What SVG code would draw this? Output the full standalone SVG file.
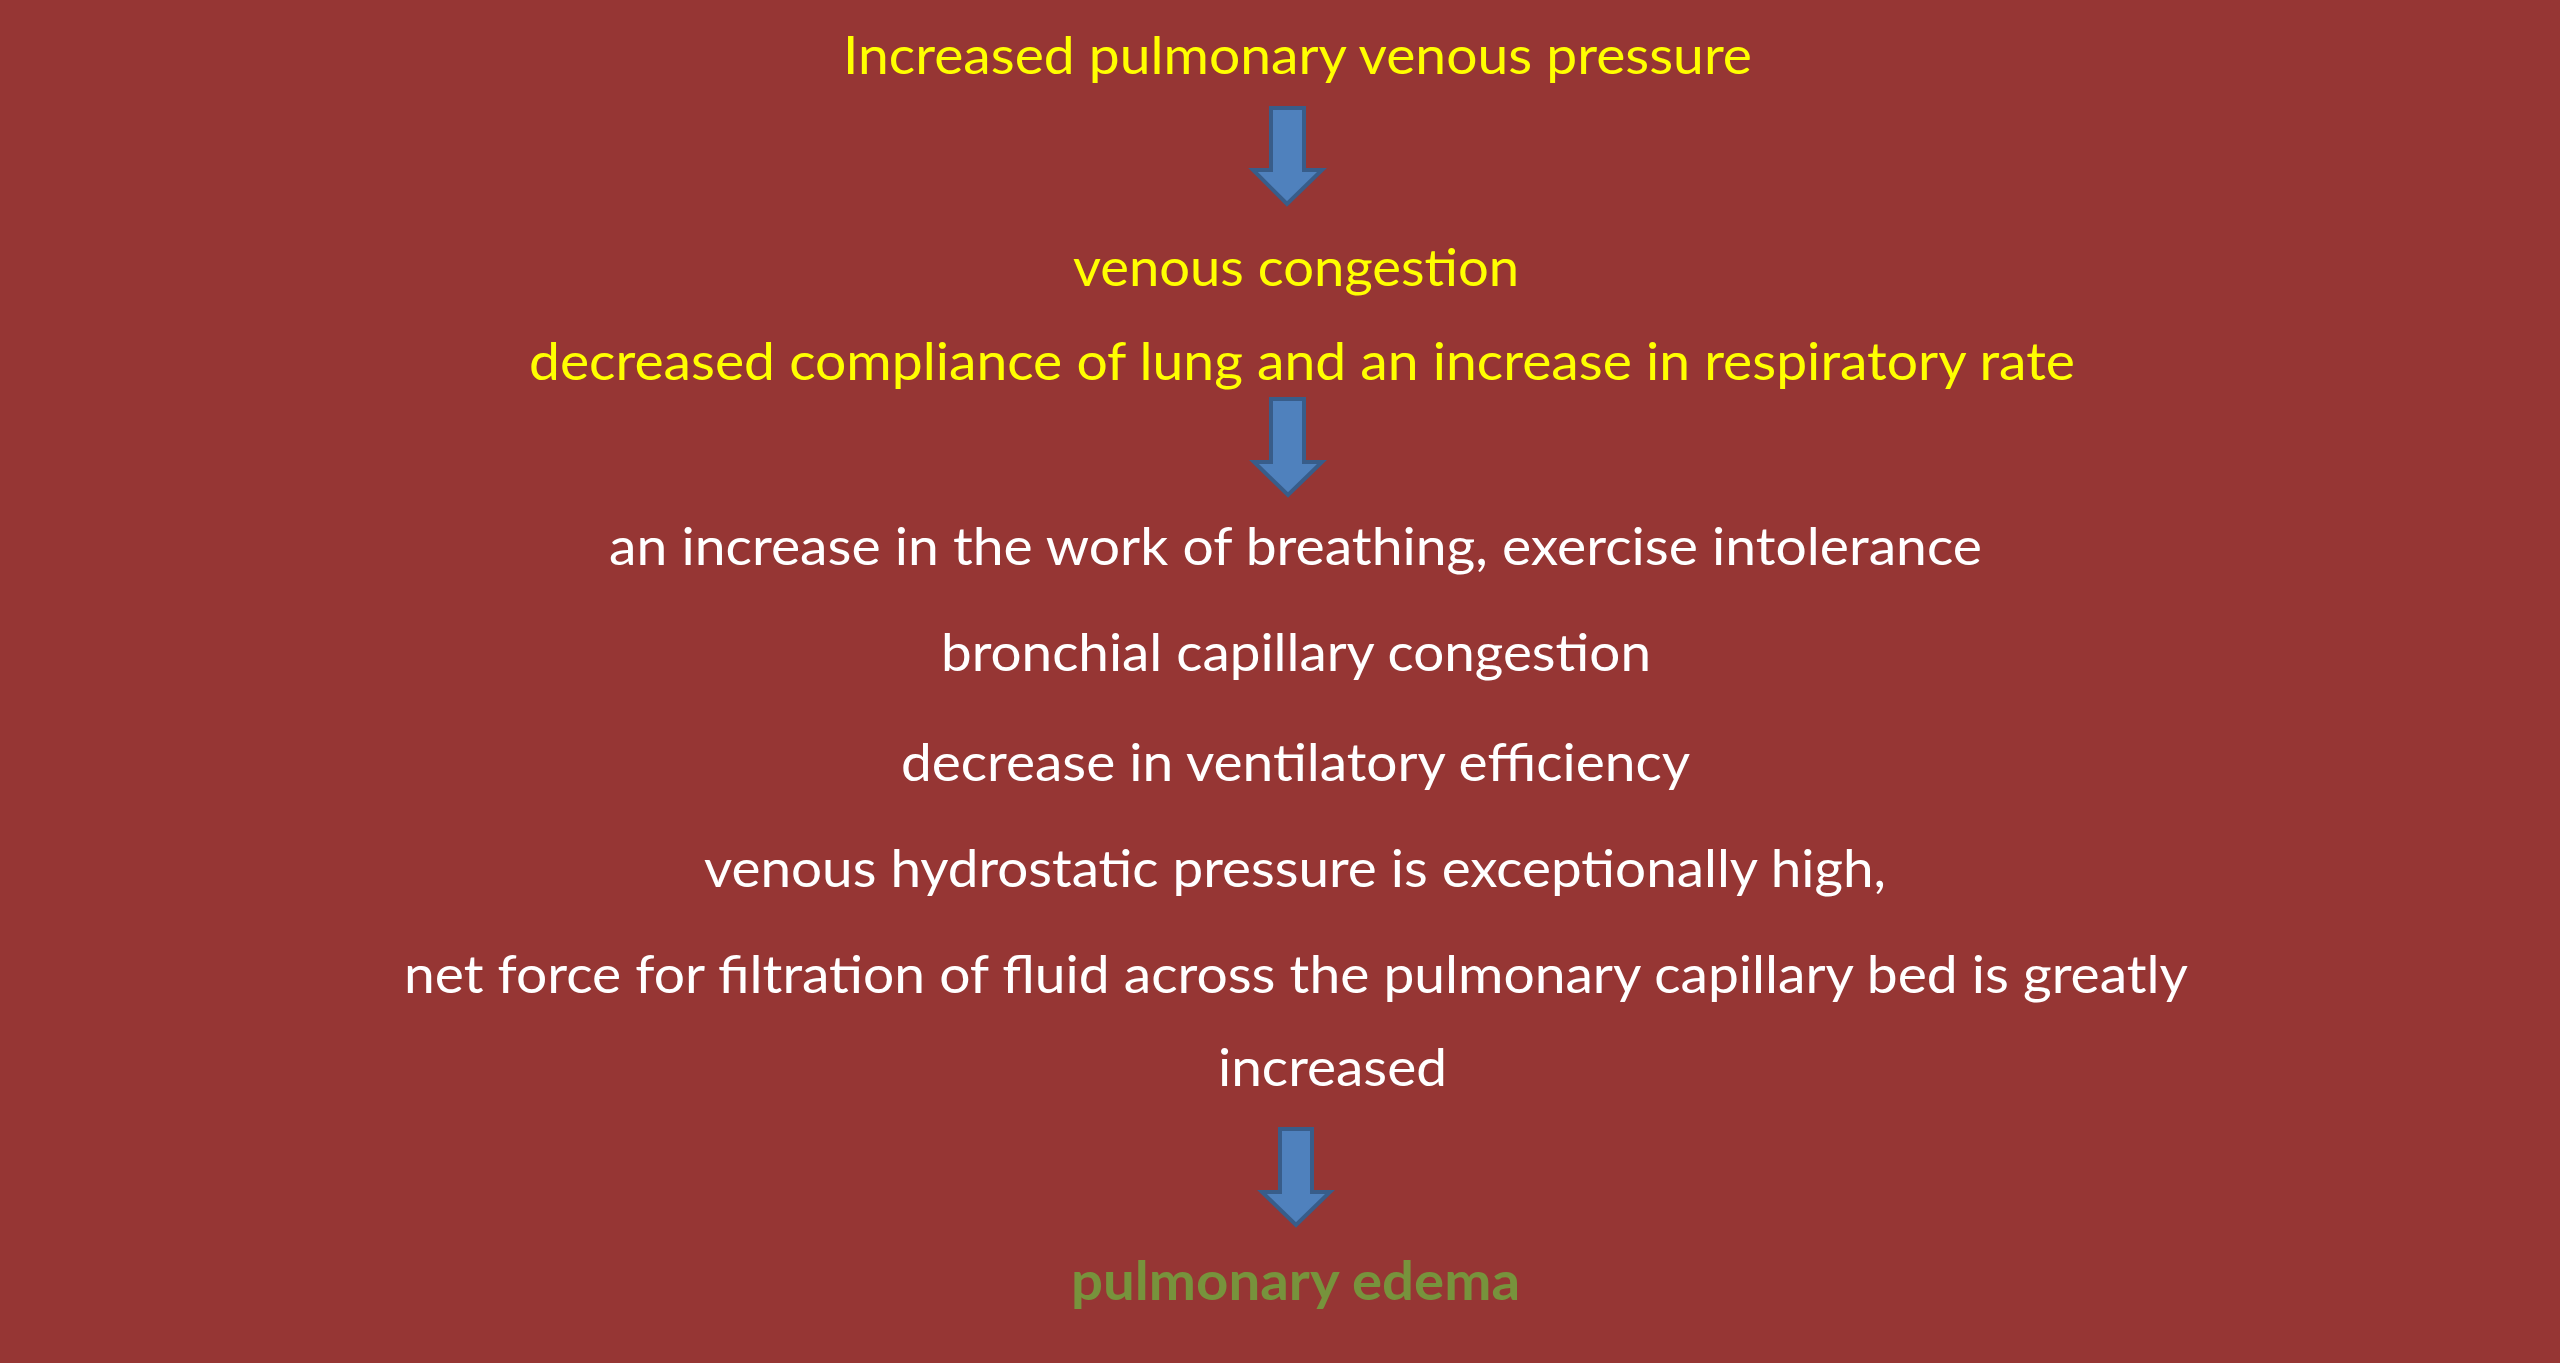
<svg xmlns="http://www.w3.org/2000/svg" width="2560" height="1363" viewBox="0 0 2560 1363">
<style>
.t{font-family:Lato,"Open Sans","Liberation Sans",sans-serif;font-size:53px;text-anchor:start}
.y{fill:#FFFF00}
.w{fill:#FFFFFF}
.g{fill:#77933C;font-weight:bold}
.arr{fill:#4F81BD;stroke:#385D8A;stroke-width:4;stroke-linejoin:miter}
</style>
<rect x="0" y="0" width="2560" height="1363" fill="#963634"/>
<g id="n1"><text class="t y" x="843" y="74" textLength="909" lengthAdjust="spacingAndGlyphs">Increased pulmonary venous pressure</text></g>
<g id="n2"><text class="t y" x="1073" y="286" textLength="446" lengthAdjust="spacingAndGlyphs">venous congestion</text></g>
<g id="n3"><text class="t y" x="529" y="380" textLength="1546" lengthAdjust="spacingAndGlyphs">decreased compliance of lung and an increase in respiratory rate</text></g>
<g id="n4"><text class="t w" x="609" y="565" textLength="1373" lengthAdjust="spacingAndGlyphs">an increase in the work of breathing, exercise intolerance</text></g>
<g id="n5"><text class="t w" x="941" y="671" textLength="710" lengthAdjust="spacingAndGlyphs">bronchial capillary congestion</text></g>
<g id="n6"><text class="t w" x="901" y="781" textLength="789" lengthAdjust="spacingAndGlyphs">decrease in ventilatory efficiency</text></g>
<g id="n7"><text class="t w" x="704" y="887" textLength="1182" lengthAdjust="spacingAndGlyphs">venous hydrostatic pressure is exceptionally high,</text></g>
<g id="n8"><text class="t w" x="404" y="993" textLength="1784" lengthAdjust="spacingAndGlyphs">net force for filtration of fluid across the pulmonary capillary bed is greatly</text>
<text class="t w" x="1218" y="1086" textLength="229" lengthAdjust="spacingAndGlyphs">increased</text></g>
<g id="n9"><text class="t g" x="1071" y="1300" textLength="449" lengthAdjust="spacingAndGlyphs">pulmonary edema</text></g>
<g id="connectors">
<path class="arr" d="M1271 108 H1304 V170 H1322 L1287 204 L1253 170 H1271 Z"/>
<path class="arr" d="M1271 399 H1304 V462 H1322 L1288 495 L1254 462 H1271 Z"/>
<path class="arr" d="M1280 1129 H1312 V1192 H1330 L1296 1225 L1262 1192 H1280 Z"/>
</g>
</svg>
